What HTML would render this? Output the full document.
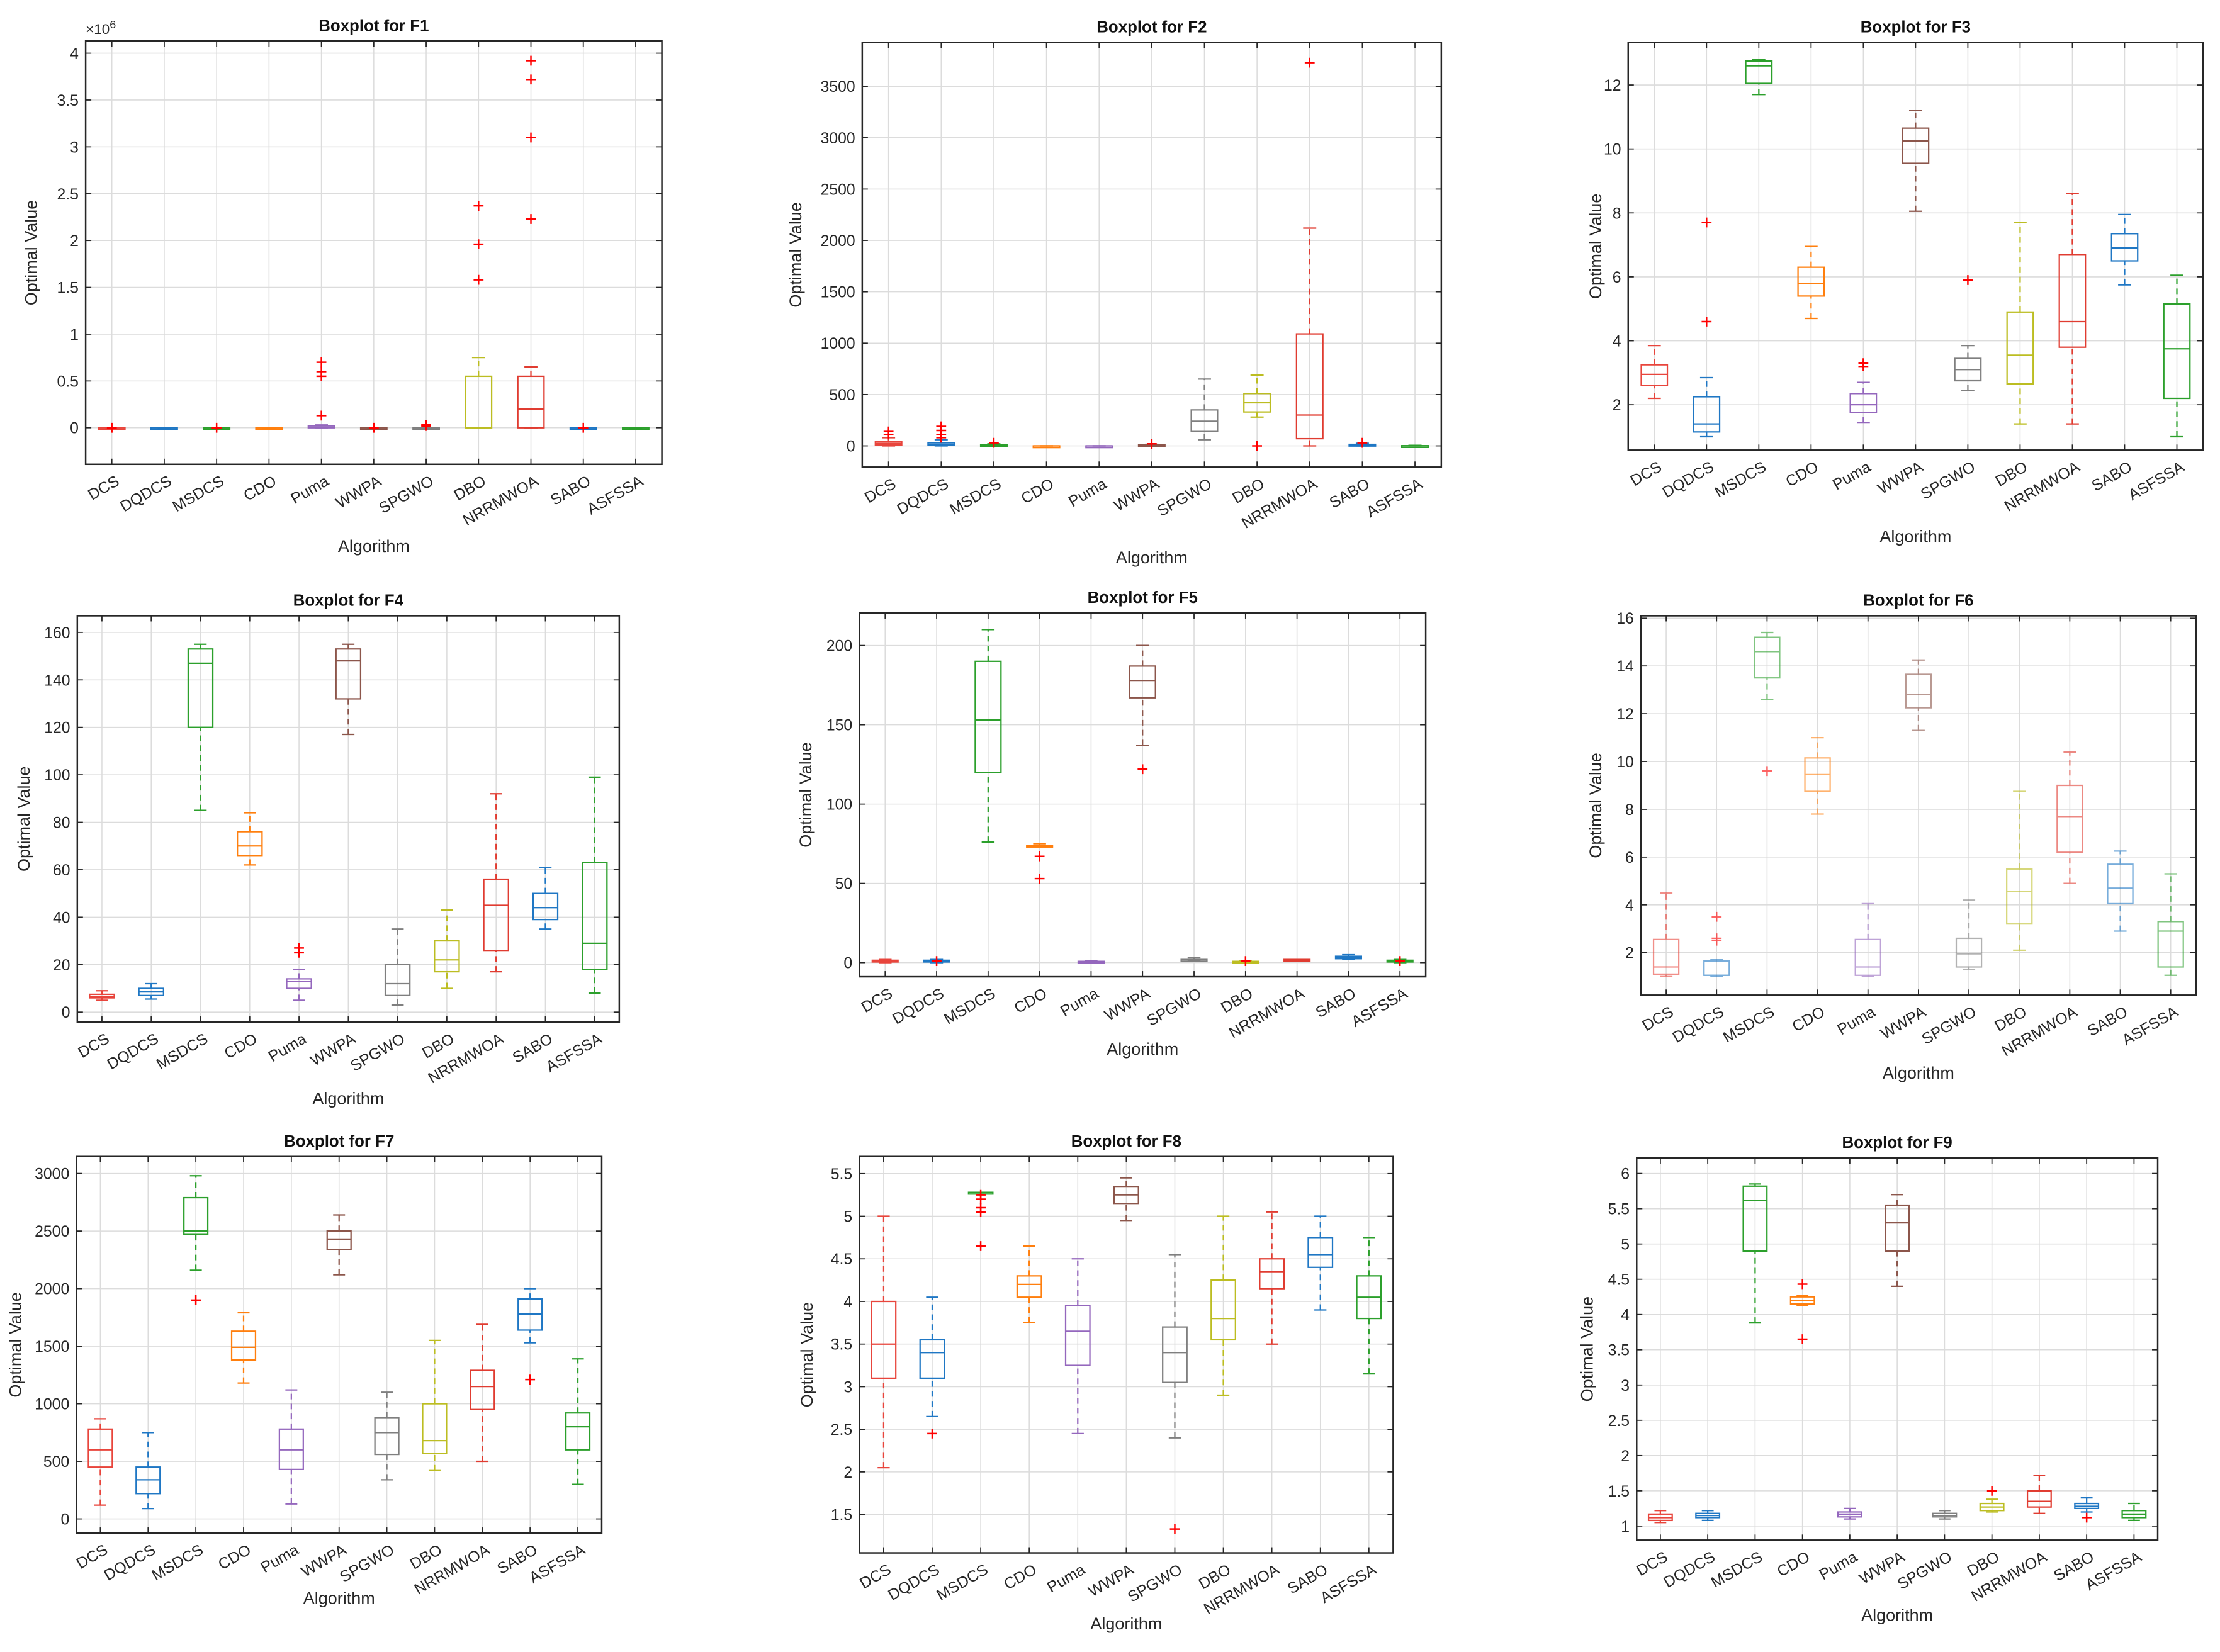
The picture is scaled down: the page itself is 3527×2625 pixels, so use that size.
<!DOCTYPE html>
<html><head><meta charset="utf-8"><style>
html,body{margin:0;padding:0;background:#fff;}
svg{display:block;font-family:"Liberation Sans",Arial,sans-serif;}
</style></head>
<body>
<svg id="fig" width="3527" height="2625" viewBox="0 0 1568 1167" preserveAspectRatio="none" xmlns="http://www.w3.org/2000/svg"></svg>
<script>
const algorithms = ["DCS","DQDCS","MSDCS","CDO","Puma","WWPA","SPGWO","DBO","NRRMWOA","SABO","ASFSSA"];
const colors = ["#e8453c","#1f77c4","#2ca02c","#ff7f0e","#9467bd","#8c564b","#7f7f7f","#bcbd22","#e03c31","#1f77c4","#2ca02c"];
// stats per algorithm: [lowWhisker, q1, median, q3, highWhisker]
const f1Stats = [[0,0,0,0,0],[0,0,0,0,0],[0,0,0,0,0],[0,0,0,0,0],[0,0,0.005,0.02,0.03],[0,0,0,0,0],[0,0,0,0,0],[0,0,0,0.55,0.75],[0,0,0.2,0.55,0.65],[0,0,0,0,0],[0,0,0,0,0]];
const f1Outliers = [[0],[],[0],[],[0.13,0.55,0.6,0.7],[0],[0.02,0.03],[1.58,1.96,2.37],[2.23,3.1,3.72,3.92],[0],[]];
const f2Stats = [[0,10,25,45,80],[0,5,15,30,60],[0,2,5,10,20],[0,0,0,0,0],[0,0,0,0,0],[0,2,5,10,15],[60,140,240,350,650],[280,330,420,510,690],[0,70,300,1090,2120],[0,3,8,15,25],[0,0,0,2,5]];
const f2Outliers = [[110,140],[80,110,150,190],[30],[],[],[20],[],[0],[3730],[30],[]];
const f3Stats = [[2.2,2.6,2.95,3.25,3.85],[1.0,1.15,1.4,2.25,2.85],[11.7,12.05,12.6,12.75,12.8],[4.7,5.4,5.8,6.3,6.95],[1.45,1.75,2.0,2.35,2.7],[8.05,9.55,10.25,10.65,11.2],[2.45,2.75,3.1,3.45,3.85],[1.4,2.65,3.55,4.9,7.7],[1.4,3.8,4.6,6.7,8.6],[5.75,6.5,6.9,7.35,7.95],[1.0,2.2,3.75,5.15,6.05]];
const f3Outliers = [[],[4.6,7.7],[],[],[3.2,3.3],[],[5.9],[],[],[],[]];
const f4Stats = [[5,6,6.5,7.5,9],[5.5,7,8.5,10,12],[85,120,147,153,155],[62,66,70,76,84],[5,10,13,14,18],[117,132,148,153,155],[3,7,12,20,35],[10,17,22,30,43],[17,26,45,56,92],[35,39,44,50,61],[8,18,29,63,99]];
const f4Outliers = [[],[],[],[],[25,27],[],[],[],[],[],[]];
const f5Stats = [[0,0.5,1,1.5,2],[0,0.5,1,1.5,2],[76,120,153,190,210],[74,74,74,74,75],[0,0.3,0.5,0.8,1],[137,167,178,187,200],[1,1.5,2,2,3],[0,0.3,0.5,0.8,1],[1,1,1.5,2,2],[2,2.5,3,4,5],[0,0.5,1,1.5,2]];
const f5Outliers = [[],[1],[],[67,53],[],[122],[],[1],[],[],[1]];
const f6Stats = [[1,1.1,1.4,2.55,4.5],[1,1.05,1.05,1.65,1.7],[12.6,13.5,14.6,15.2,15.4],[7.8,8.75,9.45,10.15,11],[1,1.05,1.4,2.55,4.05],[11.3,12.25,12.8,13.65,14.25],[1.3,1.4,1.95,2.6,4.2],[2.1,3.2,4.55,5.5,8.75],[4.9,6.2,7.7,9.0,10.4],[2.9,4.05,4.7,5.7,6.25],[1.05,1.4,2.9,3.3,5.3]];
const f6Outliers = [[],[2.5,2.6,3.5],[9.6],[],[],[],[],[],[],[],[]];
const f7Stats = [[120,450,600,780,870],[90,220,340,450,750],[2160,2470,2500,2790,2980],[1180,1380,1490,1630,1790],[130,430,600,780,1120],[2120,2340,2430,2500,2640],[340,560,750,880,1100],[420,570,680,1000,1550],[500,950,1150,1290,1690],[1530,1640,1780,1910,2000],[300,600,800,920,1390]];
const f7Outliers = [[],[],[1900],[],[],[],[],[],[],[1210],[]];
const f8Stats = [[2.05,3.1,3.5,4.0,5.0],[2.65,3.1,3.4,3.55,4.05],[5.28,5.28,5.28,5.28,5.28],[3.75,4.05,4.2,4.3,4.65],[2.45,3.25,3.65,3.95,4.5],[4.95,5.15,5.25,5.35,5.45],[2.4,3.05,3.4,3.7,4.55],[2.9,3.55,3.8,4.25,5.0],[3.5,4.15,4.35,4.5,5.05],[3.9,4.4,4.55,4.75,5.0],[3.15,3.8,4.05,4.3,4.75]];
const f8Outliers = [[],[2.45],[5.25,5.2,5.1,5.05,4.65],[],[],[],[1.33],[],[],[],[]];
const f9Stats = [[1.05,1.08,1.12,1.17,1.22],[1.08,1.12,1.15,1.18,1.22],[3.88,4.9,5.62,5.82,5.85],[4.13,4.15,4.2,4.25,4.27],[1.1,1.13,1.17,1.2,1.25],[4.4,4.9,5.3,5.55,5.7],[1.1,1.13,1.15,1.18,1.22],[1.2,1.22,1.27,1.32,1.38],[1.18,1.27,1.35,1.5,1.72],[1.2,1.25,1.28,1.32,1.4],[1.08,1.12,1.17,1.22,1.32]];
const f9Outliers = [[],[],[],[4.43,3.65],[],[],[],[1.5],[],[1.12],[]];
const f1Ticks = ["0","0.5","1","1.5","2","2.5","3","3.5","4"];
const f2Ticks = ["0","500","1000","1500","2000","2500","3000","3500"];
const f3Ticks = ["2","4","6","8","10","12"];
const f4Ticks = ["0","20","40","60","80","100","120","140","160"];
const f5Ticks = ["0","50","100","150","200"];
const f6Ticks = ["2","4","6","8","10","12","14","16"];
const f7Ticks = ["0","500","1000","1500","2000","2500","3000"];
const f8Ticks = ["1.5","2","2.5","3","3.5","4","4.5","5","5.5"];
const f9Ticks = ["1","1.5","2","2.5","3","3.5","4","4.5","5","5.5","6"];

const panels = [
 {t:"F1",s:f1Stats,o:f1Outliers,ticks:f1Ticks,L:60.5,R:467.5,T:29,B:328,y0:-0.39,y1:4.13,ylx:26,xly:390,exp:true},
 {t:"F2",s:f2Stats,o:f2Outliers,ticks:f2Ticks,L:609,R:1018,T:30,B:330,y0:-207,y1:3927,ylx:566,xly:398},
 {t:"F3",s:f3Stats,o:f3Outliers,ticks:f3Ticks,L:1150,R:1556,T:30,B:318,y0:0.58,y1:13.33,ylx:1131,xly:383},
 {t:"F4",s:f4Stats,o:f4Outliers,ticks:f4Ticks,L:54.6,R:437.4,T:435,B:722,y0:-4.2,y1:167,ylx:21,xly:780},
 {t:"F5",s:f5Stats,o:f5Outliers,ticks:f5Ticks,L:607,R:1007,T:433,B:690,y0:-8.9,y1:220.5,ylx:573,xly:745},
 {t:"F6",s:f6Stats,o:f6Outliers,ticks:f6Ticks,L:1159,R:1551,T:435,B:703,y0:0.22,y1:16.1,ylx:1131,xly:762,faded:true},
 {t:"F7",s:f7Stats,o:f7Outliers,ticks:f7Ticks,L:54,R:425,T:817,B:1083,y0:-123,y1:3147,ylx:15,xly:1133},
 {t:"F8",s:f8Stats,o:f8Outliers,ticks:f8Ticks,L:607,R:984,T:817,B:1097,y0:1.05,y1:5.7,ylx:574,xly:1151},
 {t:"F9",s:f9Stats,o:f9Outliers,ticks:f9Ticks,L:1156,R:1524,T:818,B:1088,y0:0.8,y1:6.22,ylx:1125,xly:1145}
];
const NS="http://www.w3.org/2000/svg";
const svg=document.getElementById('fig');
function mk(tag,attrs,parent){const e=document.createElementNS(NS,tag);for(const k in attrs)e.setAttribute(k,attrs[k]);parent.appendChild(e);return e;}
panels.forEach((p,pi)=>{
  const g=mk('g',{},svg);
  
  
  const n=algorithms.length;
  const sp=(p.R-p.L)/n;
  const xs=i=>p.L+sp*(i+0.5);
  const ys=v=>p.B-(v-p.y0)/(p.y1-p.y0)*(p.B-p.T);
  for(let i=0;i<n;i++){const l=mk('line',{x1:xs(i),x2:xs(i),y1:p.T,y2:p.B,stroke:'#dcdcdc','stroke-width':0.7},g);
    }
  p.ticks.forEach(tk=>{const v=parseFloat(tk);const y=ys(v);
    const l=mk('line',{x1:p.L,x2:p.R,y1:y,y2:y,stroke:'#dcdcdc','stroke-width':0.7},g);
    
    mk('line',{x1:p.L,x2:p.L+4,y1:y,y2:y,stroke:'#262626','stroke-width':0.8},g);
    mk('line',{x1:p.R,x2:p.R-4,y1:y,y2:y,stroke:'#262626','stroke-width':0.8},g);
    const t=mk('text',{x:p.L-5,y:y+4,'text-anchor':'end','font-size':11,fill:'#262626'},g);t.textContent=tk;
    });
  const fr=mk('rect',{x:p.L,y:p.T,width:p.R-p.L,height:p.B-p.T,fill:'none',stroke:'#262626','stroke-width':1.1},g);
  
  const bg=mk('g',{opacity:p.faded?0.6:1},g);
  p.s.forEach((st,i)=>{
    const c=colors[i],x=xs(i),bw=sp*0.5,cw=sp*0.25;
    const bx=mk('g',{},bg);
    
    
    mk('line',{x1:x,x2:x,y1:ys(st[0]),y2:ys(st[1]),stroke:c,'stroke-width':1,'stroke-dasharray':'4,3'},bx);
    mk('line',{x1:x,x2:x,y1:ys(st[3]),y2:ys(st[4]),stroke:c,'stroke-width':1,'stroke-dasharray':'4,3'},bx);
    mk('line',{x1:x-cw/2,x2:x+cw/2,y1:ys(st[0]),y2:ys(st[0]),stroke:c,'stroke-width':1},bx);
    mk('line',{x1:x-cw/2,x2:x+cw/2,y1:ys(st[4]),y2:ys(st[4]),stroke:c,'stroke-width':1},bx);
    const top=ys(st[3]),bot=ys(st[1]);
    mk('rect',{x:x-bw/2,y:top,width:bw,height:Math.max(bot-top,1.2),fill:'none',stroke:c,'stroke-width':1},bx);
    mk('line',{x1:x-bw/2,x2:x+bw/2,y1:ys(st[2]),y2:ys(st[2]),stroke:c,'stroke-width':1},bx);
    p.o[i].forEach(v=>{const y=ys(v);
      const o=mk('path',{d:`M${x-3.5},${y}H${x+3.5}M${x},${y-3.5}V${y+3.5}`,stroke:'#ff0000','stroke-width':1.1,fill:'none'},bx);
      });
    mk('line',{x1:x,x2:x,y1:p.B,y2:p.B-4,stroke:'#262626','stroke-width':0.8},g);
    mk('line',{x1:x,x2:x,y1:p.T,y2:p.T+4,stroke:'#262626','stroke-width':0.8},g);
    const lx=x+6,ly=p.B+14;
    const t=mk('text',{x:lx,y:ly,'text-anchor':'end','font-size':11,fill:'#262626',transform:`rotate(-30 ${lx} ${ly})`},g);
    t.textContent=algorithms[i];
    
  });
  const tt=mk('text',{x:(p.L+p.R)/2,y:p.T-7,'text-anchor':'middle','font-size':11.5,'font-weight':'bold',fill:'#111'},g);
  tt.textContent='Boxplot for '+p.t;
  
  const xl=mk('text',{x:(p.L+p.R)/2,y:p.xly,'text-anchor':'middle','font-size':12,fill:'#262626'},g);
  xl.textContent='Algorithm';
  
  const ym=(p.T+p.B)/2;
  const yl=mk('text',{x:p.ylx,y:ym,'text-anchor':'middle','font-size':12,fill:'#262626',transform:`rotate(-90 ${p.ylx} ${ym})`},g);
  yl.textContent='Optimal Value';
  
  if(p.exp){const e=mk('text',{x:p.L,y:p.T-5,'font-size':10,fill:'#262626'},g);
    e.innerHTML='×10<tspan dy="-4" font-size="8">6</tspan>';
    }
});
</script>
</body></html>
